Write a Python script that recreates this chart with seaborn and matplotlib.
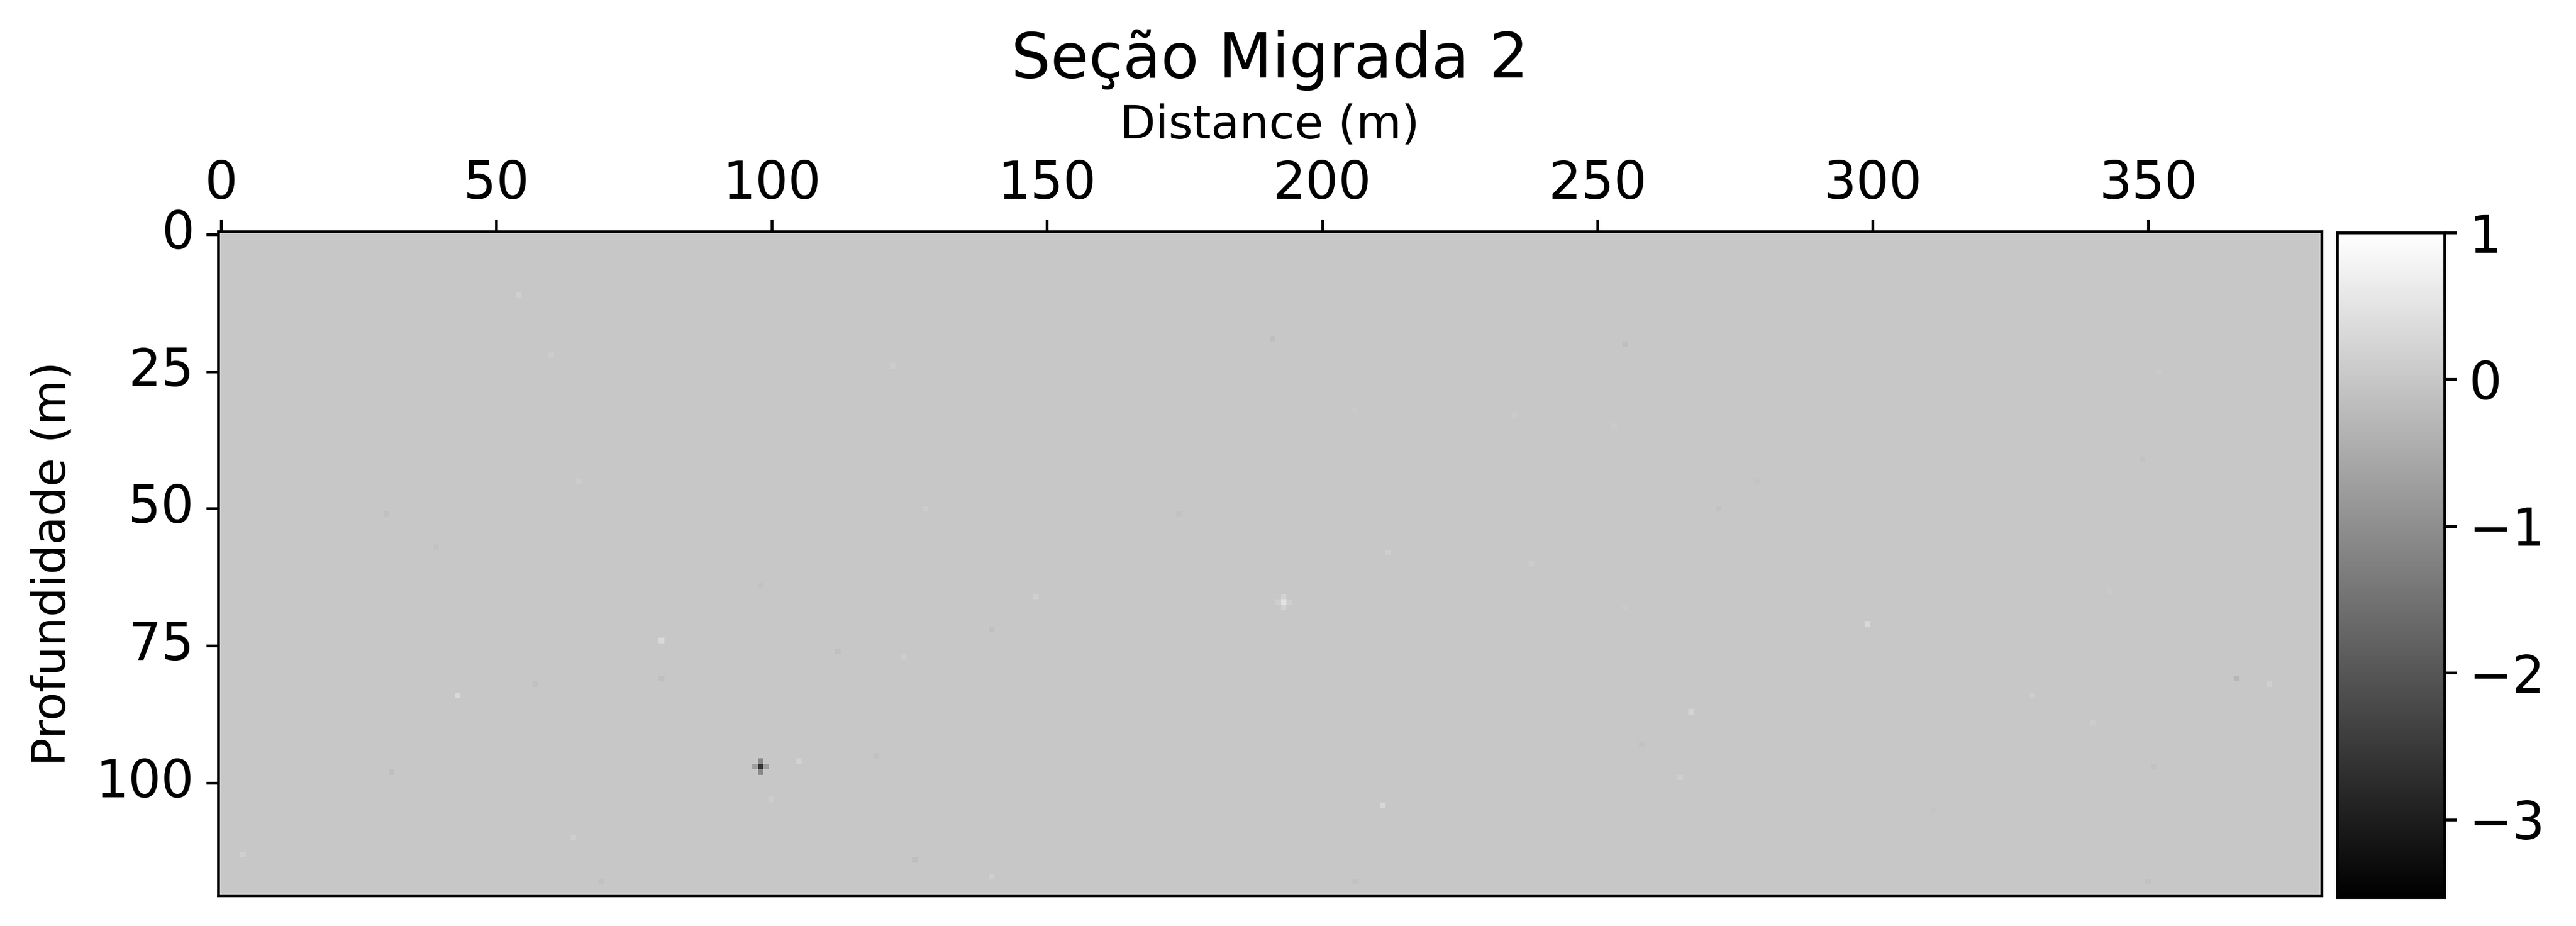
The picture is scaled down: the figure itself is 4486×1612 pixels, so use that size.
import numpy as np
import pandas as pd
import matplotlib
matplotlib.use("Agg")
import matplotlib.pyplot as plt
import seaborn as sns

# ---------------- data ----------------
title = "Seção Migrada 2"
x_label = "Distance (m)"
y_label = "Profundidade (m)"
n_x = 382          # distance samples (1 m spacing)
n_z = 121          # depth samples (1 m spacing)
vmin, vmax = -3.53, 1.0
cbar_ticks = [1, 0, -1, -2, -3]

# scattered amplitudes in the migrated section (distance index, depth index, amplitude)
spk_x = [54, 98, 80, 43, 80, 105, 112, 119, 31, 4, 64, 30, 57, 100, 65, 60, 98, 69, 39,
         193, 211, 191, 148, 140, 126, 140, 212, 122, 174, 206, 235, 238, 124, 206, 128,
         299, 366, 372, 267, 265, 255, 349, 352, 329, 343, 350, 272, 255, 258, 351, 279, 340, 311, 253,
         98, 98, 97, 99, 193, 193, 192, 194]
spk_z = [11, 97, 74, 84, 81, 96, 76, 95, 98, 113, 110, 51, 82, 103, 45, 22, 64, 118, 57,
         67, 104, 19, 66, 72, 114, 117, 58, 24, 51, 32, 33, 60, 77, 118, 50,
         71, 81, 82, 87, 99, 20, 41, 25, 84, 65, 118, 50, 68, 93, 97, 45, 89, 105, 35,
         96, 98, 97, 97, 66, 68, 67, 67]
spk_v = [0.15, -2.6, 0.3, 0.3, -0.15, 0.2, -0.12, -0.1, -0.15, 0.15, 0.12, -0.1, -0.1, 0.1, 0.08, 0.08, -0.08, -0.1, -0.08,
         0.5, 0.3, -0.15, 0.15, -0.12, -0.15, 0.12, 0.12, 0.08, -0.08, 0.06, 0.06, 0.08, 0.1, -0.08, 0.08,
         0.3, -0.3, 0.15, 0.22, 0.12, -0.15, -0.08, 0.06, 0.1, 0.06, -0.1, -0.08, 0.06, -0.08, -0.08, -0.06, 0.08, -0.06, 0.06,
         -1.1, -1.1, -0.7, -0.7, 0.2, 0.2, 0.12, 0.12]

field = np.zeros((n_z, n_x))
field[spk_z, spk_x] = spk_v
df = pd.DataFrame(field, index=range(n_z), columns=range(n_x))

# ---------------- figure ----------------
W, H, DPI = 4486, 1612, 432
fig = plt.figure(figsize=(W / DPI, H / DPI), dpi=DPI)
ax = fig.add_axes([380 / W, 1 - 1559 / H, 3663 / W, 1156 / H])
cax = fig.add_axes([4070 / W, 1 - 1562 / H, 187 / W, 1157 / H])

sns.heatmap(df, ax=ax, cbar_ax=cax, cmap="gray", vmin=vmin, vmax=vmax,
            xticklabels=50, yticklabels=25)

for s in ax.spines.values():
    s.set_visible(True)
    s.set_linewidth(0.8)
    s.set_edgecolor("black")

ax.xaxis.tick_top()
ax.xaxis.set_label_position("top")
ax.tick_params(axis="both", labelsize=15, length=3.5, width=0.8)
ax.tick_params(axis="x", pad=2.8)
plt.setp(ax.get_xticklabels(), rotation=0)
plt.setp(ax.get_yticklabels(), rotation=0)

ax.set_xlabel(x_label, fontsize=13.5)
ax.set_ylabel(y_label, fontsize=13.5)
ax.xaxis.set_label_coords(0.5, 1.141)
ax.yaxis.set_label_coords(-0.068, 0.5)
ax.set_title(title, fontsize=18, y=1.232, pad=0)

cbar = ax.collections[0].colorbar
cbar.outline.set_visible(True)
cbar.outline.set_linewidth(0.8)
cbar.outline.set_edgecolor("black")
cbar.set_ticks(cbar_ticks)
cbar.ax.tick_params(labelsize=15, length=3.5, width=0.8)

fig.savefig("out.png", dpi=DPI)
